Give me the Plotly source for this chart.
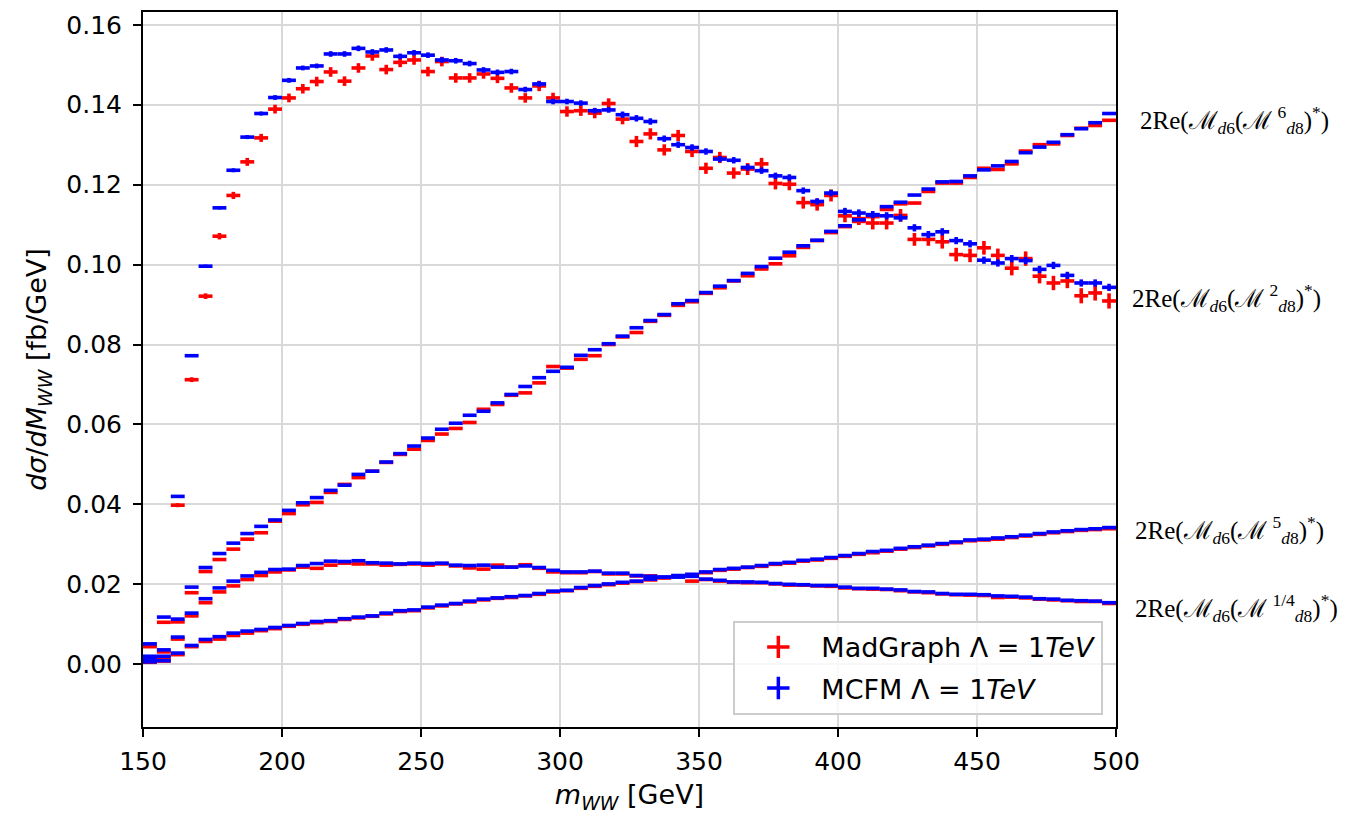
import plotly.graph_objects as go

# ---------------- data ----------------
bin_width = 5.0
m_ww = [152.5 + 5 * i for i in range(70)]  # bin centres [GeV]

# 2Re(M_d6 (M_d8^2)^*)
a_mg = [0.0010, 0.0017, 0.0398, 0.0712, 0.0921, 0.1071, 0.1173, 0.1257, 0.1317, 0.1389,
        0.1417, 0.1440, 0.1458, 0.1482, 0.1459, 0.1492, 0.1522, 0.1488, 0.1506, 0.1512,
        0.1483, 0.1508, 0.1467, 0.1467, 0.1477, 0.1466, 0.1442, 0.1417, 0.1447, 0.1417,
        0.1383, 0.1385, 0.1379, 0.1403, 0.1364, 0.1308, 0.1327, 0.1287, 0.1323, 0.1283,
        0.1241, 0.1268, 0.1229, 0.1239, 0.1252, 0.1203, 0.1201, 0.1155, 0.1150, 0.1173,
        0.1122, 0.1115, 0.1104, 0.1104, 0.1123, 0.1063, 0.1063, 0.1057, 0.1025, 0.1023,
        0.1042, 0.1023, 0.0991, 0.1015, 0.0971, 0.0954, 0.0959, 0.0922, 0.0929, 0.0909]
a_mcfm = [0.0012, 0.0020, 0.0420, 0.0772, 0.0996, 0.1142, 0.1236, 0.1319, 0.1378, 0.1418,
          0.1461, 0.1492, 0.1497, 0.1527, 0.1527, 0.1541, 0.1532, 0.1537, 0.1521, 0.1530,
          0.1524, 0.1512, 0.1510, 0.1503, 0.1487, 0.1481, 0.1483, 0.1438, 0.1452, 0.1408,
          0.1408, 0.1404, 0.1385, 0.1387, 0.1375, 0.1366, 0.1358, 0.1315, 0.1300, 0.1293,
          0.1283, 0.1264, 0.1261, 0.1243, 0.1235, 0.1222, 0.1218, 0.1185, 0.1158, 0.1179,
          0.1133, 0.1129, 0.1125, 0.1122, 0.1117, 0.1092, 0.1075, 0.1082, 0.1060, 0.1052,
          0.1011, 0.1004, 0.1015, 0.1010, 0.0988, 0.0998, 0.0973, 0.0954, 0.0954, 0.0943]
a_mg_err = [0.0002, 0.0003, 0.0005, 0.0006, 0.0007, 0.0008, 0.0009, 0.0010, 0.0010, 0.0011,
            0.0011, 0.0012, 0.0012, 0.0012, 0.0012, 0.0012, 0.0012, 0.0012, 0.0012, 0.0012,
            0.0012, 0.0012, 0.0012, 0.0012, 0.0012, 0.0012, 0.0012, 0.0012, 0.0013, 0.0013,
            0.0013, 0.0013, 0.0013, 0.0013, 0.0013, 0.0014, 0.0014, 0.0014, 0.0014, 0.0014,
            0.0014, 0.0014, 0.0014, 0.0015, 0.0015, 0.0015, 0.0015, 0.0015, 0.0015, 0.0015,
            0.0016, 0.0016, 0.0016, 0.0016, 0.0016, 0.0016, 0.0016, 0.0017, 0.0017, 0.0017,
            0.0017, 0.0017, 0.0018, 0.0018, 0.0018, 0.0018, 0.0018, 0.0019, 0.0019, 0.0019]
a_mcfm_err = [0.0002, 0.0002, 0.0003, 0.0003, 0.0004, 0.0004, 0.0005, 0.0005, 0.0005, 0.0006,
              0.0006, 0.0006, 0.0006, 0.0007, 0.0007, 0.0007, 0.0007, 0.0007, 0.0007, 0.0007,
              0.0007, 0.0007, 0.0007, 0.0007, 0.0007, 0.0007, 0.0007, 0.0007, 0.0007, 0.0007,
              0.0007, 0.0007, 0.0007, 0.0007, 0.0008, 0.0008, 0.0008, 0.0008, 0.0008, 0.0008,
              0.0008, 0.0008, 0.0008, 0.0008, 0.0008, 0.0008, 0.0008, 0.0008, 0.0008, 0.0008,
              0.0009, 0.0009, 0.0009, 0.0009, 0.0009, 0.0009, 0.0009, 0.0009, 0.0009, 0.0009,
              0.0009, 0.0009, 0.0009, 0.0009, 0.0009, 0.0009, 0.0009, 0.0009, 0.0009, 0.0009]

# 2Re(M_d6 (M_d8^6)^*)
b_mg = [0.0044, 0.0105, 0.0106, 0.0179, 0.0232, 0.0262, 0.0288, 0.0313, 0.0329, 0.0358,
        0.0377, 0.0399, 0.0405, 0.0430, 0.0450, 0.0467, 0.0483, 0.0505, 0.0525, 0.0538,
        0.0560, 0.0576, 0.0590, 0.0605, 0.0638, 0.0650, 0.0673, 0.0679, 0.0704, 0.0745,
        0.0741, 0.0763, 0.0772, 0.0800, 0.0819, 0.0830, 0.0858, 0.0873, 0.0898, 0.0907,
        0.0928, 0.0942, 0.0959, 0.0972, 0.0989, 0.1002, 0.1022, 0.1043, 0.1060, 0.1080,
        0.1095, 0.1108, 0.1120, 0.1138, 0.1152, 0.1154, 0.1183, 0.1204, 0.1204, 0.1218,
        0.1241, 0.1238, 0.1252, 0.1284, 0.1300, 0.1302, 0.1323, 0.1341, 0.1348, 0.1361]
b_mcfm = [0.0051, 0.0118, 0.0113, 0.0193, 0.0242, 0.0277, 0.0303, 0.0327, 0.0345, 0.0361,
          0.0385, 0.0404, 0.0417, 0.0435, 0.0448, 0.0475, 0.0483, 0.0506, 0.0527, 0.0546,
          0.0566, 0.0588, 0.0603, 0.0623, 0.0633, 0.0654, 0.0675, 0.0695, 0.0717, 0.0733,
          0.0743, 0.0773, 0.0787, 0.0802, 0.0821, 0.0842, 0.0860, 0.0875, 0.0902, 0.0910,
          0.0930, 0.0946, 0.0960, 0.0978, 0.0995, 0.1016, 0.1031, 0.1047, 0.1061, 0.1083,
          0.1097, 0.1112, 0.1124, 0.1145, 0.1156, 0.1174, 0.1189, 0.1207, 0.1208, 0.1222,
          0.1237, 0.1247, 0.1258, 0.1280, 0.1294, 0.1306, 0.1325, 0.1340, 0.1355, 0.1378]

# 2Re(M_d6 (M_d8^5)^*)
c_mg = [0.0005, 0.0008, 0.0024, 0.0044, 0.0057, 0.0063, 0.0072, 0.0078, 0.0084, 0.0089,
        0.0095, 0.0100, 0.0104, 0.0107, 0.0112, 0.0116, 0.0120, 0.0126, 0.0132, 0.0134,
        0.0141, 0.0146, 0.0151, 0.0156, 0.0161, 0.0165, 0.0167, 0.0171, 0.0175, 0.0181,
        0.0184, 0.0190, 0.0195, 0.0199, 0.0203, 0.0207, 0.0211, 0.0216, 0.0220, 0.0224,
        0.0229, 0.0235, 0.0238, 0.0242, 0.0245, 0.0250, 0.0253, 0.0258, 0.0261, 0.0265,
        0.0270, 0.0275, 0.0279, 0.0283, 0.0288, 0.0292, 0.0296, 0.0300, 0.0304, 0.0309,
        0.0311, 0.0313, 0.0317, 0.0321, 0.0325, 0.0329, 0.0332, 0.0335, 0.0337, 0.0339]
c_mcfm = [0.0006, 0.0009, 0.0028, 0.0047, 0.0062, 0.0069, 0.0078, 0.0083, 0.0087, 0.0092,
          0.0097, 0.0102, 0.0107, 0.0109, 0.0114, 0.0118, 0.0121, 0.0128, 0.0134, 0.0136,
          0.0143, 0.0148, 0.0152, 0.0158, 0.0163, 0.0166, 0.0169, 0.0172, 0.0177, 0.0183,
          0.0185, 0.0192, 0.0197, 0.0201, 0.0205, 0.0208, 0.0213, 0.0218, 0.0222, 0.0225,
          0.0231, 0.0237, 0.0240, 0.0243, 0.0247, 0.0252, 0.0255, 0.0260, 0.0263, 0.0267,
          0.0272, 0.0277, 0.0282, 0.0285, 0.0290, 0.0294, 0.0298, 0.0302, 0.0306, 0.0311,
          0.0313, 0.0316, 0.0319, 0.0323, 0.0327, 0.0331, 0.0334, 0.0337, 0.0339, 0.0342]

# 2Re(M_d6 (M_d8^{1/4})^*)
d_mg = [0.0016, 0.0031, 0.0063, 0.0121, 0.0154, 0.0181, 0.0196, 0.0212, 0.0222, 0.0231,
        0.0236, 0.0243, 0.0240, 0.0248, 0.0253, 0.0251, 0.0251, 0.0248, 0.0250, 0.0251,
        0.0248, 0.0251, 0.0246, 0.0241, 0.0238, 0.0248, 0.0243, 0.0249, 0.0240, 0.0231,
        0.0229, 0.0229, 0.0232, 0.0226, 0.0226, 0.0221, 0.0221, 0.0217, 0.0221, 0.0208,
        0.0212, 0.0208, 0.0205, 0.0204, 0.0204, 0.0201, 0.0198, 0.0198, 0.0196, 0.0195,
        0.0191, 0.0189, 0.0188, 0.0187, 0.0184, 0.0181, 0.0179, 0.0176, 0.0174, 0.0173,
        0.0172, 0.0167, 0.0168, 0.0166, 0.0163, 0.0161, 0.0159, 0.0157, 0.0157, 0.0152]
d_mcfm = [0.0020, 0.0036, 0.0068, 0.0128, 0.0164, 0.0191, 0.0208, 0.0221, 0.0230, 0.0237,
          0.0238, 0.0247, 0.0252, 0.0258, 0.0257, 0.0259, 0.0254, 0.0253, 0.0251, 0.0253,
          0.0252, 0.0253, 0.0248, 0.0247, 0.0248, 0.0243, 0.0243, 0.0246, 0.0242, 0.0235,
          0.0231, 0.0231, 0.0233, 0.0228, 0.0228, 0.0222, 0.0220, 0.0218, 0.0218, 0.0220,
          0.0213, 0.0210, 0.0206, 0.0206, 0.0205, 0.0202, 0.0200, 0.0199, 0.0197, 0.0197,
          0.0193, 0.0190, 0.0190, 0.0188, 0.0186, 0.0182, 0.0181, 0.0177, 0.0175, 0.0175,
          0.0174, 0.0171, 0.0170, 0.0168, 0.0164, 0.0163, 0.0160, 0.0159, 0.0158, 0.0154]

small_err_mg = 0.0003
small_err_mcfm = 0.0002

series_powers = ["6", "2", "5", "1/4"]
label_y = [0.1363, 0.0917, 0.0336, 0.0142]
label_shift = [22, 14, 17, 17]

legend_names = ["MadGraph Λ = 1<i>TeV</i>", "MCFM Λ = 1<i>TeV</i>"]
colors = ["#ff0000", "#0000ff"]

x_ticks = [150, 200, 250, 300, 350, 400, 450, 500]
y_ticks = [0.00, 0.02, 0.04, 0.06, 0.08, 0.10, 0.12, 0.14, 0.16]

# ---------------- figure ----------------
fig = go.Figure()
THICK = 3.6


def add_hist(y, err, color, name):
    if isinstance(err, list):
        ey = dict(type="data", array=err, visible=True, color=color, thickness=THICK, width=0)
    else:
        ey = dict(type="constant", value=err, visible=True, color=color, thickness=THICK, width=0)
    fig.add_trace(go.Scatter(
        x=m_ww, y=y, mode="markers",
        marker=dict(size=0.1, color=color, opacity=0),
        error_x=dict(type="constant", value=bin_width / 2, visible=True, color=color,
                     thickness=THICK, width=0),
        error_y=ey, showlegend=False, name=name, hoverinfo="x+y"))


# MadGraph (red) first, MCFM (blue) on top
add_hist(a_mg, a_mg_err, colors[0], "MadGraph")
add_hist(b_mg, small_err_mg, colors[0], "MadGraph")
add_hist(c_mg, small_err_mg, colors[0], "MadGraph")
add_hist(d_mg, small_err_mg, colors[0], "MadGraph")
add_hist(a_mcfm, a_mcfm_err, colors[1], "MCFM")
add_hist(b_mcfm, small_err_mcfm, colors[1], "MCFM")
add_hist(c_mcfm, small_err_mcfm, colors[1], "MCFM")
add_hist(d_mcfm, small_err_mcfm, colors[1], "MCFM")

# legend entries
for i, (nm, col) in enumerate(zip(legend_names, colors)):
    fig.add_trace(go.Scatter(
        x=[None], y=[None], mode="markers", name=nm, legendgroup=f"g{i}",
        marker=dict(symbol="cross-thin", size=16, color=col, line=dict(color=col, width=3.5))))

annotations = []
for pw, yv, sh in zip(series_powers, label_y, label_shift):
    txt = ("2Re(ℳ<sub><i>d</i>6</sub>(ℳ\u2009<sup>" + pw + "</sup><sub><i>d</i>8</sub>)"
           "<sup>*</sup>)")
    annotations.append(dict(
        text=txt, xref="paper", x=1.0, xanchor="left", xshift=sh,
        yref="y", y=yv, yanchor="middle", showarrow=False,
        font=dict(family="Liberation Serif, DejaVu Serif, serif", size=25, color="black")))

axis_common = dict(showline=True, linecolor="black", linewidth=2, mirror=True,
                   ticks="outside", ticklen=8, tickwidth=2, tickcolor="black",
                   showgrid=True, gridcolor="#d9d9d9", gridwidth=2, zeroline=False,
                   tickfont=dict(family="DejaVu Sans", size=25, color="black"))

fig.update_layout(
    width=1352, height=815, autosize=False,
    margin=dict(l=143, r=236, t=10, b=87),
    paper_bgcolor="white", plot_bgcolor="white",
    font=dict(family="DejaVu Sans", size=24, color="black"),
    xaxis=dict(range=[150, 500], tickvals=x_ticks, ticklabelstandoff=3,
               title=dict(text="<i>m</i><sub><i>WW</i></sub> [GeV]", standoff=10,
                          font=dict(family="DejaVu Sans", size=27)),
               **axis_common),
    yaxis=dict(range=[-0.0157, 0.1632], tickvals=y_ticks, tickformat=".2f",
               ticklabelstandoff=6,
               title=dict(text="<i>dσ</i>/<i>dM</i><sub><i>WW</i></sub> [fb/GeV]", standoff=12,
                          font=dict(family="DejaVu Sans", size=27)),
               **axis_common),
    legend=dict(x=0.987, xanchor="right", y=0.017, yanchor="bottom",
                bgcolor="rgba(255,255,255,0.8)", bordercolor="#cccccc", borderwidth=2,
                font=dict(family="DejaVu Sans", size=27, color="black"),
                tracegroupgap=3, itemwidth=76),
    annotations=annotations,
    showlegend=True,
)

fig.write_html("out.html")
